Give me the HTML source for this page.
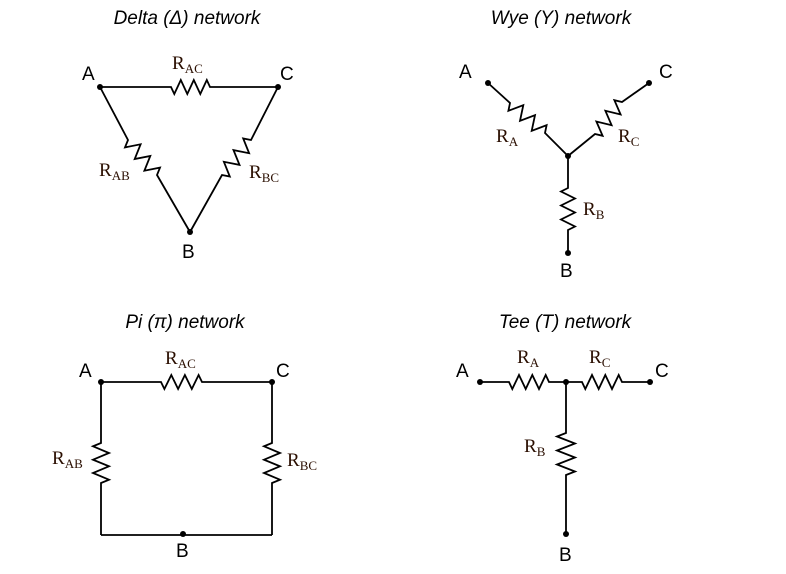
<!DOCTYPE html>
<html><head><meta charset="utf-8"><style>
html,body{margin:0;padding:0;background:#fff;width:786px;height:574px;overflow:hidden}
svg{display:block}
.t{font-family:"Liberation Sans",sans-serif;font-style:italic;font-size:19px;fill:#000}
.n{font-family:"Liberation Sans",sans-serif;font-size:19px;fill:#000}
.r{font-family:"Liberation Serif",serif;font-size:19px;fill:#2a0e00}
.s{font-size:13px}
</style></head><body>
<svg id="s" width="786" height="574" viewBox="0 0 786 574" xmlns="http://www.w3.org/2000/svg">
<g fill="none" stroke="#000" stroke-width="1.8" stroke-linejoin="miter" id="w"></g>
<g fill="#000" id="d"></g>
<text class="t" x="187" y="24" text-anchor="middle">Delta (Δ) network</text>
<text class="t" x="561" y="24" text-anchor="middle">Wye (Y) network</text>
<text class="t" x="185" y="328" text-anchor="middle">Pi (π) network</text>
<text class="t" x="565" y="328" text-anchor="middle">Tee (T) network</text>
<text class="n" x="82" y="80">A</text><text class="n" x="280" y="80">C</text><text class="n" x="182" y="258">B</text>
<text class="r" x="172" y="69">R<tspan class="s" dy="4">AC</tspan></text>
<text class="r" x="99" y="176">R<tspan class="s" dy="4">AB</tspan></text>
<text class="r" x="249" y="178">R<tspan class="s" dy="4">BC</tspan></text>
<text class="n" x="459" y="78">A</text><text class="n" x="659" y="78">C</text><text class="n" x="560" y="277">B</text>
<text class="r" x="496" y="142">R<tspan class="s" dy="4">A</tspan></text>
<text class="r" x="618" y="142">R<tspan class="s" dy="4">C</tspan></text>
<text class="r" x="583" y="215">R<tspan class="s" dy="4">B</tspan></text>
<text class="n" x="79" y="377">A</text><text class="n" x="276" y="377">C</text><text class="n" x="176" y="557">B</text>
<text class="r" x="165" y="364">R<tspan class="s" dy="4">AC</tspan></text>
<text class="r" x="52" y="464">R<tspan class="s" dy="4">AB</tspan></text>
<text class="r" x="287" y="466">R<tspan class="s" dy="4">BC</tspan></text>
<text class="n" x="456" y="377">A</text><text class="n" x="655" y="377">C</text><text class="n" x="559" y="561">B</text>
<text class="r" x="517" y="363">R<tspan class="s" dy="4">A</tspan></text>
<text class="r" x="589" y="363">R<tspan class="s" dy="4">C</tspan></text>
<text class="r" x="524" y="452">R<tspan class="s" dy="4">B</tspan></text>
</svg>
<script>
var W=document.getElementById('w'),D=document.getElementById('d'),NS='http://www.w3.org/2000/svg';
function pl(pts){var p=document.createElementNS(NS,'polyline');p.setAttribute('points',pts.map(function(a){return a[0].toFixed(1)+','+a[1].toFixed(1)}).join(' '));W.appendChild(p);}
function dot(x,y){var c=document.createElementNS(NS,'circle');c.setAttribute('cx',x);c.setAttribute('cy',y);c.setAttribute('r',3);D.appendChild(c);}
function res(p1,r1,r2,p2,amp){var dx=r2[0]-r1[0],dy=r2[1]-r1[1],L=Math.hypot(dx,dy),ux=dx/L,uy=dy/L,nx=-uy,ny=ux;
var pts=[p1,r1];var n=6;for(var i=0;i<n;i++){var t=(i+0.5)/n,s=(i%2?-1:1)*amp;pts.push([r1[0]+dx*t+nx*s,r1[1]+dy*t+ny*s]);}
pts.push(r2);pts.push(p2);pl(pts);}
res([100,87],[171,87],[210,87],[278,87],7);
res([100,87],[128,140],[157,175],[190,232],7);
res([278,87],[251,140],[222,175],[190,232],7);
dot(100,87);dot(278,87);dot(190,232);
res([488,83],[510,103],[545,133],[568,156],7);
res([649,83],[622,102],[595,134],[568,156],7);
res([568,156],[568,188],[568,230],[568,253],7);
dot(488,83);dot(649,83);dot(568,156);dot(568,253);
res([101,382],[161,382],[202,382],[272,382],7);
res([101,382],[101,443],[101,483],[101,535],8);
res([272,382],[272,443],[272,483],[272,535],8);
pl([[101,535],[272,535]]);
dot(101,382);dot(272,382);dot(183,534);
res([480,382],[509,382],[549,382],[566,382],7);
res([566,382],[582,382],[622,382],[650,382],7);
res([566,382],[566,433],[566,475],[566,534],9);
dot(480,382);dot(566,382);dot(650,382);dot(566,534);
</script>
</body></html>
